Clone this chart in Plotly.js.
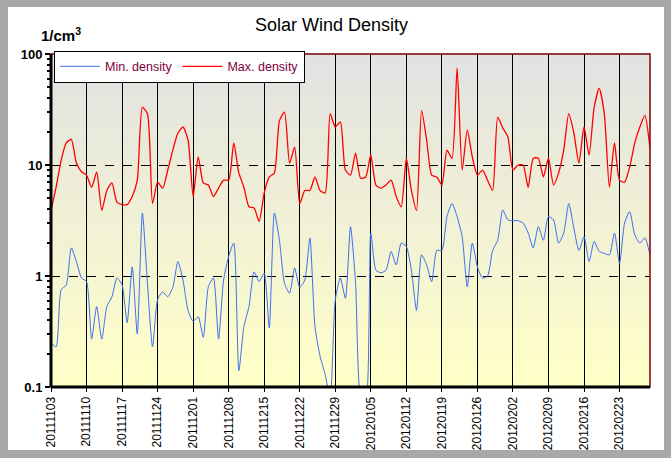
<!DOCTYPE html>
<html>
<head>
<meta charset="utf-8">
<script src="https://cdn.plot.ly/plotly-3.0.1.min.js"></script>
<style>
body{margin:0;background:#a8a8a8;width:671px;height:458px;overflow:hidden}
#chart{position:absolute;left:8px;top:7px;width:656px;height:443px;background:#fff}
</style>
</head>
<body>
<div id="chart"></div>
<script>
// daily values starting 2011-11-03
var startDate = '2011-11-03';
var maxDensity = [3.9,6.3,11,15.8,17,10.4,8.7,8.1,6.3,8.6,3.9,5.9,6.9,4.6,4.4,4.4,5.2,7.3,33,29,
  4.5,7,6.2,9,13.6,19.4,22,16.8,5.2,11.8,6.9,6.6,5.2,6.2,7.3,7.3,15.8,8.5,6.3,4.2,
  4.1,3.1,5.6,7.8,8.5,25,30,10.4,14.5,4.5,5.9,5.9,7.8,5.9,5.6,29,22,24.5,9,8.1,
  12.8,7.6,7.8,12.3,6.6,6.2,6.6,7.3,5.2,4.2,11.5,5.9,3.9,31,16.8,8.1,7.8,6.6,13.6,11.5,
  75,9,20.7,11.8,8.1,9,7.3,5.9,27,21.5,18,9,10,10,6.3,11.5,11.5,7.8,11.5,6.6,
  8.5,13.6,29,19.4,10.4,22,12.3,33,49,29,6.3,15.8,7.3,7,9.6,15.8,22,28,14];
var minDensity = [0.25,0.23,0.75,0.83,1.79,1.35,0.96,0.89,0.27,0.53,0.27,0.53,0.65,0.96,0.83,0.38,1.21,0.3,3.7,0.86,
  0.23,0.61,0.72,0.65,0.79,1.35,0.92,0.49,0.39,0.43,0.28,0.8,0.96,0.27,0.92,1.5,1.98,0.14,0.35,0.53,
  1.09,0.89,1.06,0.34,3.7,2.1,0.86,0.7,1.18,0.79,0.92,2.2,0.35,0.19,0.13,0.08,0.61,0.96,0.63,2.78,
  0.86,0.08,0.07,2.44,1.13,1.07,1.13,1.66,1.26,1.98,1.84,1.13,0.49,1.55,1.26,0.89,1.7,1.7,3.43,4.5,
  3.43,2.26,0.8,1.98,1.21,0.96,1.0,1.7,2.1,3.93,3.2,3.15,3.15,3.0,2.44,1.79,2.78,2.1,3.43,3.2,
  1.98,2.44,4.5,2.7,1.7,2.26,1.35,2.05,1.66,1.6,1.55,2.44,1.3,3.0,3.8,2.35,1.98,2.2,1.55];

var dates = maxDensity.map(function(v, i){
  var d = new Date(startDate + 'T00:00:00Z');
  d.setUTCDate(d.getUTCDate() + i);
  return d.toISOString().slice(0, 10);
});

var trace1 = {
  x: dates, y: minDensity, name: 'Min. density', type: 'scatter', mode: 'lines',
  line: {color: '#3d6ef0', width: 1, shape: 'spline', smoothing: 0.6}
};
var trace2 = {
  x: dates, y: maxDensity, name: 'Max. density', type: 'scatter', mode: 'lines',
  line: {color: '#ff0000', width: 1.3, shape: 'spline', smoothing: 0.6}
};

// gradient background bands
var shapes = [];
var n = 40;
for (var i = 0; i < n; i++) {
  var t = i / (n - 1);
  var r = Math.round(255 + (226 - 255) * t), g = Math.round(255 + (226 - 255) * t), b = Math.round(200 + (226 - 200) * t);
  shapes.push({type: 'rect', xref: 'x domain', yref: 'y domain', x0: 0, x1: 1, y0: i / n, y1: (i + 1) / n + 0.002,
    fillcolor: 'rgb(' + r + ',' + g + ',' + b + ')', line: {width: 0}, layer: 'below'});
}
shapes.push({type: 'rect', xref: 'x domain', yref: 'y domain', x0: 0, x1: 1, y0: 0, y1: 1,
  line: {color: '#800000', width: 1.5}, layer: 'above'});
shapes.push({type: 'line', xref: 'x domain', yref: 'y domain', x0: 0, x1: 0, y0: 0, y1: 1, line: {color: '#000', width: 3}});
shapes.push({type: 'line', xref: 'x domain', yref: 'y domain', x0: 0, x1: 1, y0: 0, y1: 0, line: {color: '#000', width: 3}});

var layout = {
  width: 656, height: 443,
  margin: {l: 43, r: 14, t: 47, b: 63},
  paper_bgcolor: '#ffffff',
  plot_bgcolor: 'rgba(0,0,0,0)',
  font: {family: 'Liberation Sans, Arial, sans-serif', color: '#000'},
  title: {text: 'Solar Wind Density', x: 0.493, xanchor: 'center', y: 0.975, font: {size: 18}},
  showlegend: true,
  legend: {orientation: 'h', x: 0.005, y: 1.01, xanchor: 'left', yanchor: 'top', bgcolor: '#ffffff',
    bordercolor: '#000', borderwidth: 1, font: {size: 12.5, color: '#800040'}, tracegroupgap: 0,
    itemwidth: 40},
  xaxis: {
    type: 'date', range: ['2011-11-03', '2012-02-29'],
    tick0: '2011-11-03', dtick: 7 * 86400000, tickformat: '%Y%m%d', tickangle: -90,
    showgrid: true, gridcolor: '#000', gridwidth: 1,
    ticks: 'outside', ticklen: 4, tickcolor: '#000', tickfont: {size: 12},
    showline: false, zeroline: false
  },
  yaxis: {
    type: 'log', range: [-1, 2],
    tickvals: [0.1, 1, 10, 100], ticktext: ['0.1', '1', '10', '100'],
    tickfont: {size: 13, family: 'Liberation Sans, Arial', weight: 'bold'},
    showgrid: true, gridcolor: '#000', griddash: 'dash', gridwidth: 1,
    ticks: 'outside', ticklen: 5, tickwidth: 2, tickcolor: '#000',
    minor: {ticks: 'outside', ticklen: 3, tickcolor: '#000', dtick: 'D1', showgrid: false},
    showline: false, zeroline: false
  },
  shapes: shapes,
  annotations: [{text: '<b>1/cm<sup>3</sup></b>', xref: 'paper', yref: 'paper', x: -0.02, y: 1.025,
    xanchor: 'left', yanchor: 'bottom', showarrow: false, font: {size: 15}}]
};

Plotly.newPlot('chart', [trace1, trace2], layout, {displayModeBar: false, staticPlot: true});
</script>
</body>
</html>
